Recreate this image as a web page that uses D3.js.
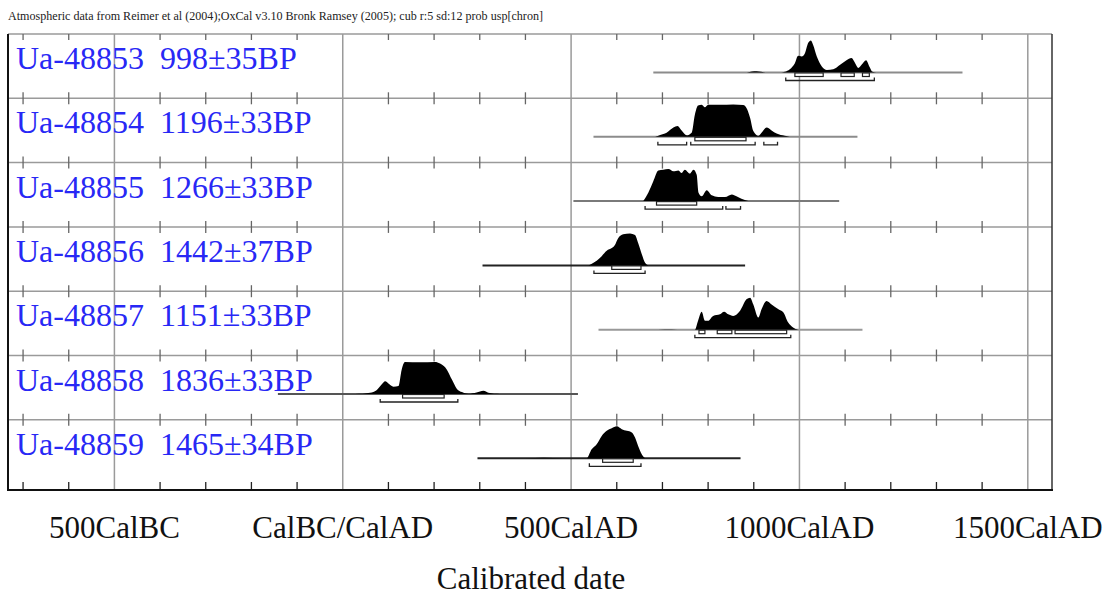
<!DOCTYPE html>
<html><head><meta charset="utf-8">
<script src="https://cdn.jsdelivr.net/npm/d3@7"></script>
<style>body{margin:0;background:#fff}svg{display:block}</style>
</head><body>
<script>
const titleText = "Atmospheric data from Reimer et al (2004);OxCal v3.10 Bronk Ramsey (2005); cub r:5 sd:12 prob usp[chron]";
const sampleIds = ["Ua-48853","Ua-48854","Ua-48855","Ua-48856","Ua-48857","Ua-48858","Ua-48859"];
const sampleAges = ["998±35BP","1196±33BP","1266±33BP","1442±37BP","1151±33BP","1836±33BP","1465±34BP"];
const majorTickYears = [-500,0,500,1000,1500];
const majorTickLabels = ["500CalBC","CalBC/CalAD","500CalAD","1000CalAD","1500CalAD"];
const axisTitle = "Calibrated date";
// calibration curve span lines [from, to] (cal years, AD positive)
const rangeLines = [[680,1357],[549,1127],[505,1087],[306,881],[560,1138],[-142,515],[295,871]];
// probability densities [year, relative probability]
const dens1 = [[885,0],[896,0.03],[906,0.04],[916,0.02],[926,0],[960,0],[968,0.02],[990,0.29],[997,0.52],[1005,0.5],[1012,0.6],[1019,0.92],[1025,1.0],[1030,0.86],[1038,0.5],[1049,0.19],[1060,0.08],[1074,0.1],[1089,0.24],[1103,0.38],[1114,0.45],[1122,0.29],[1129,0.14],[1136,0.24],[1146,0.38],[1153,0.19],[1160,0.02],[1168,0]];
const dens2 = [[684,0],[695,0.06],[709,0.13],[724,0.29],[733,0.34],[742,0.2],[753,0.05],[764,0.13],[771,0.69],[778,0.98],[786,1.0],[793,0.92],[800,1.0],[826,1.0],[855,1.01],[877,0.99],[884,0.9],[892,0.59],[899,0.18],[910,0.03],[917,0.13],[928,0.29],[939,0.2],[950,0.1],[968,0.03],[979,0]];
const dens3 = [[658,0],[669,0.26],[680,0.62],[691,0.96],[702,0.98],[713,1.0],[724,0.93],[735,0.96],[742,0.88],[749,0.98],[760,0.86],[768,0.98],[775,0.82],[779,0.26],[786,0.15],[797,0.34],[808,0.18],[822,0.13],[837,0.13],[852,0.21],[862,0.15],[873,0.07],[888,0]];
const dens4 = [[538,0],[549,0.08],[563,0.23],[578,0.46],[589,0.54],[596,0.64],[603,0.85],[614,0.97],[629,1.0],[640,0.95],[647,0.69],[655,0.34],[662,0.08],[669,0]];
const dens5 = [[690,0],[720,0.01],[745,0],[771,0],[778,0.28],[786,0.56],[793,0.28],[800,0.28],[811,0.43],[826,0.48],[835,0.56],[844,0.48],[855,0.43],[870,0.59],[884,0.95],[892,1.0],[899,0.79],[910,0.38],[917,0.64],[928,0.9],[939,0.79],[954,0.64],[965,0.54],[975,0.23],[986,0.07],[997,0]];
const dens6 = [[27,0],[60,0.04],[74,0.12],[85,0.3],[93,0.4],[100,0.33],[111,0.23],[122,0.25],[129,0.76],[136,1.0],[169,0.99],[202,1.0],[213,0.95],[228,0.76],[239,0.45],[250,0.16],[261,0.06],[275,0.01],[293,0.05],[308,0.1],[319,0.04],[344,0]];
const dens7 = [[400,0],[440,0.02],[483,0],[534,0],[545,0.28],[556,0.44],[567,0.7],[578,0.86],[589,0.94],[600,1.0],[611,0.91],[622,0.86],[633,0.81],[640,0.65],[647,0.38],[655,0.12],[662,0]];
const densities = [dens1,dens2,dens3,dens4,dens5,dens6,dens7];
// 68.2% ranges
const sigma1 = [[[990,1052],[1091,1120],[1138,1153]],[[771,883]],[[687,775]],[[589,653]],[[780,793],[820,852],[859,972]],[[131,222]],[[569,636]]];
// 95.4% ranges
const sigma2 = [[[970,1164]],[[690,753],[762,903],[922,952]],[[662,832],[839,871]],[[550,662]],[[771,981]],[[82,252]],[[540,653]]];
const lineColors = ["#8c8c8c","#8c8c8c","#7a7a7a","#222","#999","#555","#222"];

const W=1112,H=598;
const svg=d3.select("body").append("svg").attr("width",W).attr("height",H);
const x=d3.scaleLinear().domain([-733,1553]).range([8,1052]);
const rowTop=i=>34+i*64.3;
const plotTop=34, plotBottom=490;
const hScale=d3.scaleLinear().domain([0,1]).range([0,32]);

svg.append("text").attr("x",8).attr("y",20).attr("font-family","Liberation Serif, serif")
  .attr("font-size",12.5).attr("fill","#222").attr("textLength",535).attr("lengthAdjust","spacingAndGlyphs").text(titleText);

const minorYears=d3.range(-700,1600,100).filter(d=>d%500!==0);
// major gridlines
svg.append("g").selectAll("line").data(majorTickYears).join("line")
  .attr("x1",d=>x(d)).attr("x2",d=>x(d)).attr("y1",plotTop).attr("y2",plotBottom)
  .attr("stroke","#9a9a9a").attr("stroke-width",1.5);
// row separators
const seps=d3.range(0,7).map(rowTop);
svg.append("g").selectAll("line").data(seps).join("line")
  .attr("x1",8).attr("x2",1052).attr("y1",d=>d).attr("y2",d=>d).attr("stroke","#9a9a9a").attr("stroke-width",1.5);
// minor ticks at separators
const tg=svg.append("g").attr("stroke","#666").attr("stroke-width",1.3);
seps.forEach((sy,i)=>{
  minorYears.forEach(yr=>{
    tg.append("line").attr("x1",x(yr)).attr("x2",x(yr)).attr("y1",i===0?sy:sy-6).attr("y2",sy+6);
  });
});
// bottom axis ticks
minorYears.forEach(yr=>{
  tg.append("line").attr("x1",x(yr)).attr("x2",x(yr)).attr("y1",plotBottom-8).attr("y2",plotBottom).attr("stroke","#222");
});
// frame
svg.append("line").attr("x1",8).attr("x2",8).attr("y1",plotTop).attr("y2",plotBottom).attr("stroke","#111").attr("stroke-width",2);
svg.append("line").attr("x1",1052).attr("x2",1052).attr("y1",plotTop).attr("y2",plotBottom).attr("stroke","#333").attr("stroke-width",1.5);
svg.append("line").attr("x1",7).attr("x2",1053).attr("y1",plotBottom).attr("y2",plotBottom).attr("stroke","#111").attr("stroke-width",2);

// rows
sampleIds.forEach((id,i)=>{
  const top=rowTop(i), base=top+38.5;
  const g=svg.append("g");
  g.append("line").attr("x1",x(rangeLines[i][0])).attr("x2",x(rangeLines[i][1])).attr("y1",base).attr("y2",base)
    .attr("stroke",lineColors[i]).attr("stroke-width",2);
  const area=d3.area().x(d=>x(d[0])).y0(base).y1(d=>base-hScale(d[1])).curve(d3.curveMonotoneX);
  g.append("path").attr("d",area(densities[i])).attr("fill","#000");
  sigma1[i].forEach(r=>{
    g.append("rect").attr("x",x(r[0])).attr("y",base+0.5).attr("width",x(r[1])-x(r[0])).attr("height",3.5)
      .attr("fill","#fff").attr("stroke","#222").attr("stroke-width",1.2);
  });
  sigma2[i].forEach(r=>{
    g.append("path").attr("d",`M${x(r[0])},${base+5}V${base+8}H${x(r[1])}V${base+5}`)
      .attr("fill","none").attr("stroke","#222").attr("stroke-width",1.3);
  });
  g.append("text").attr("x",16).attr("y",top+35).attr("font-family","Liberation Serif, serif").attr("font-size",32)
    .attr("fill","#2828f5").text(id);
  g.append("text").attr("x",160).attr("y",top+35).attr("font-family","Liberation Serif, serif").attr("font-size",32)
    .attr("fill","#2828f5").text(sampleAges[i]);
});

// axis labels
svg.append("g").selectAll("text").data(majorTickYears).join("text")
  .attr("x",d=>x(d)).attr("y",538).attr("text-anchor","middle").attr("font-family","Liberation Serif, serif")
  .attr("font-size",31).attr("fill","#111").text((d,i)=>majorTickLabels[i]);
svg.append("text").attr("x",531).attr("y",589).attr("text-anchor","middle").attr("font-family","Liberation Serif, serif")
  .attr("font-size",31).attr("fill","#111").text(axisTitle);
</script>
</body></html>
